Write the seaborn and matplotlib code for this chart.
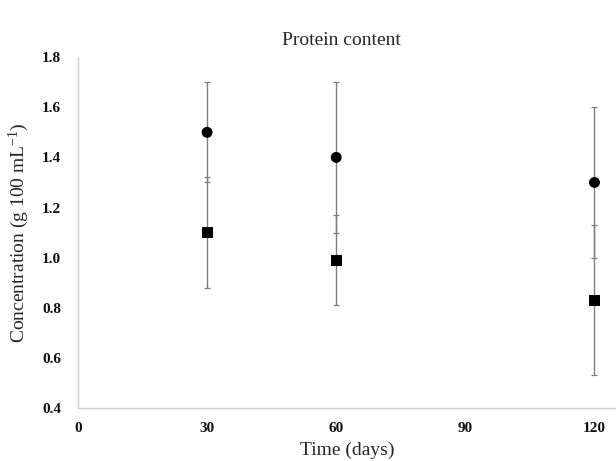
import matplotlib
matplotlib.use("Agg")
import matplotlib.pyplot as plt
import seaborn as sns
import pandas as pd

# Sampling times (days)
days = [30, 60, 120]
# Mean protein concentration and standard deviation for the two groups
circle_mean = [1.50, 1.40, 1.30]
circle_sd = [0.20, 0.30, 0.30]
square_mean = [1.10, 0.99, 0.83]
square_sd = [0.22, 0.18, 0.30]

x_ticks = [0, 30, 60, 90, 120]
y_ticks = [0.4, 0.6, 0.8, 1.0, 1.2, 1.4, 1.6, 1.8]

sns.set_theme(style="white")
plt.rcParams["font.family"] = ["Liberation Serif", "DejaVu Serif"]
plt.rcParams["mathtext.fontset"] = "custom"
plt.rcParams["mathtext.rm"] = "Liberation Serif"
plt.rcParams["mathtext.it"] = "Liberation Serif:italic"
plt.rcParams["mathtext.default"] = "regular"

df = pd.DataFrame({
    "day": days * 2,
    "conc": circle_mean + square_mean,
    "sd": circle_sd + square_sd,
    "group": ["A"] * len(days) + ["B"] * len(days),
})

fig = plt.figure(figsize=(6.16, 4.61), dpi=100)
ax = fig.add_axes([0.1266, 0.115, 0.8734, 0.761])

# standard deviation bars
ax.errorbar(df["day"], df["conc"], yerr=df["sd"], fmt="none",
            ecolor="#7f7f7f", elinewidth=1.0, capsize=2.5, capthick=0.9, zorder=1)

sns.scatterplot(data=df, x="day", y="conc", style="group",
                markers={"A": "o", "B": "s"}, color="black", s=62,
                edgecolor="black", linewidth=0, legend=False, ax=ax, zorder=3)

ax.set_xlim(0, 125)
ax.set_ylim(0.4, 1.8)
ax.set_xticks(x_ticks)
ax.set_xticklabels([str(t) for t in x_ticks])
ax.set_yticks(y_ticks)
ax.set_yticklabels([f"{t:.1f}" for t in y_ticks])
ax.tick_params(axis="both", length=0, labelsize=11, colors="#111111")
for lbl in ax.get_xticklabels() + ax.get_yticklabels():
    lbl.set_fontweight("bold")
ax.tick_params(axis="x", pad=10)
ax.tick_params(axis="y", pad=12)

for side in ["top", "right"]:
    ax.spines[side].set_visible(False)
for side in ["left", "bottom"]:
    ax.spines[side].set_color("#d0d0d0")
    ax.spines[side].set_linewidth(1.0)

ax.set_title("Protein content", fontsize=14, pad=9, x=0.49)
ax.set_xlabel("Time (days)", fontsize=14, labelpad=5)
ax.set_ylabel(r"Concentration (g 100 $mL^{-1}$)", fontsize=14, labelpad=8)

fig.savefig("out.png", dpi=100)
